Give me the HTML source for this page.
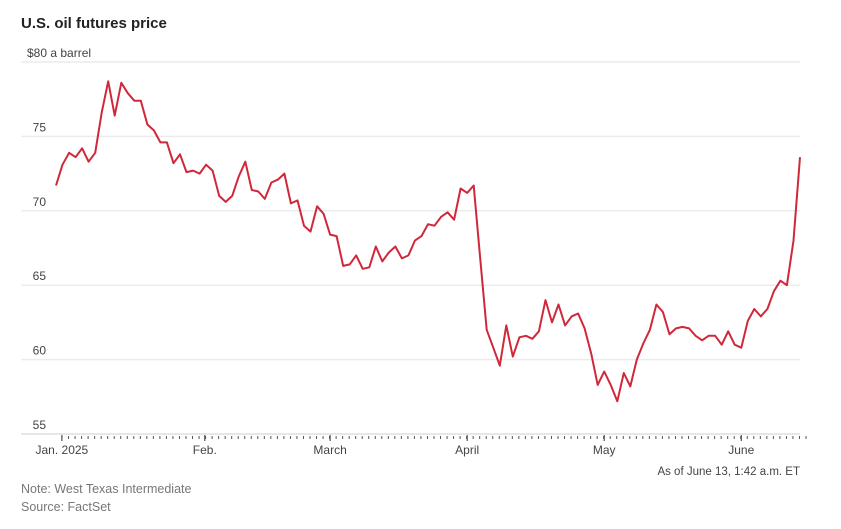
<!DOCTYPE html>
<html><head><meta charset="utf-8"><style>
body{margin:0;background:#fff;font-family:"Liberation Sans",sans-serif;}
svg{display:block}
</style></head><body>
<svg width="841" height="529" id="chart">
<text x="21" y="28" font-size="15" font-weight="bold" fill="#222">U.S. oil futures price</text>
<g id="grid"></g><g id="ticks"></g><path id="line" fill="none" stroke="#d0283a" stroke-width="2" stroke-linejoin="round"/>
<text x="800" y="475" font-size="11.5" fill="#444" text-anchor="end">As of June 13, 1:42 a.m. ET</text>
<text x="21" y="493" font-size="12.5" fill="#777">Note: West Texas Intermediate</text>
<text x="21" y="511" font-size="12.5" fill="#777">Source: FactSet</text>
</svg>
<script>
const prices=[71.7,73.1,73.9,73.6,74.2,73.3,73.9,76.6,78.7,76.4,78.6,77.9,77.4,77.4,75.8,75.4,74.6,74.6,73.2,73.8,72.6,72.7,72.5,73.1,72.7,71.0,70.6,71.0,72.3,73.3,71.4,71.3,70.8,71.9,72.1,72.5,70.5,70.7,69.0,68.6,70.3,
69.8,68.4,68.3,66.3,66.4,67.0,66.1,66.2,67.6,66.6,67.2,67.6,66.8,67.0,68.0,68.3,69.1,69.0,69.6,69.9,69.4,71.5,71.2,71.7,66.8,62.0,60.8,59.6,62.3,60.2,61.5,61.6,61.4,61.9,
64.0,62.5,63.7,62.3,62.9,63.1,62.1,60.4,58.3,59.2,58.3,57.2,59.1,58.2,60.0,61.1,62.0,63.7,63.2,61.7,62.1,62.2,62.1,61.6,61.3,61.6,61.6,61.0,61.9,61.0,60.8,62.6,63.4,62.9,63.4,64.6,65.3,65.0,68.0,73.6];
const yTicks=[80,75,70,65,60,55];
const yTickLabels=["$80 a barrel","75","70","65","60","55"];
const monthLabels=["Jan. 2025","Feb.","March","April","May","June"];
const monthIdx=[0.9,22.8,42,63,84,105];
const NS="http://www.w3.org/2000/svg";
const X0=56,X1=800,Y80=62,PX=14.88;
const x=i=>X0+(X1-X0)*i/(prices.length-1);
const y=v=>Y80+(80-v)*PX;
const svg=document.getElementById('chart'),grid=document.getElementById('grid'),ticks=document.getElementById('ticks');
function mk(tag,attrs,parent){const e=document.createElementNS(NS,tag);for(const k in attrs)e.setAttribute(k,attrs[k]);parent.appendChild(e);return e;}
yTicks.forEach((v,i)=>{
 const l=mk('line',{x1:21,x2:800,y1:y(v),y2:y(v),stroke:i==yTicks.length-1?'#ddd':'#ececec','stroke-width':1.5},grid);
 
 
 const t=mk('text',{x:i==0?27:46,y:y(v)-5,'font-size':12,fill:'#444','text-anchor':i==0?'start':'end'},grid);
 t.textContent=yTickLabels[i];
 
 
});
const base=y(55);
for(let i=0;i<prices.length;i++){
 const l=mk('line',{x1:x(i)+6,x2:x(i)+6,y1:base+2,y2:base+5,stroke:'#555','stroke-width':1},ticks);
 
 
}
monthIdx.forEach((m,i)=>{
 const l=mk('line',{x1:x(m),x2:x(m),y1:base+1,y2:base+7,stroke:'#333','stroke-width':1},ticks);
 
 
 const t=mk('text',{x:x(m),y:base+20,'font-size':12,fill:'#444','text-anchor':'middle'},ticks);
 t.textContent=monthLabels[i];
 
 
});
document.getElementById('line').setAttribute('d',prices.map((v,i)=>(i?'L':'M')+x(i).toFixed(1)+','+y(v).toFixed(1)).join(''));
</script>
</body></html>
